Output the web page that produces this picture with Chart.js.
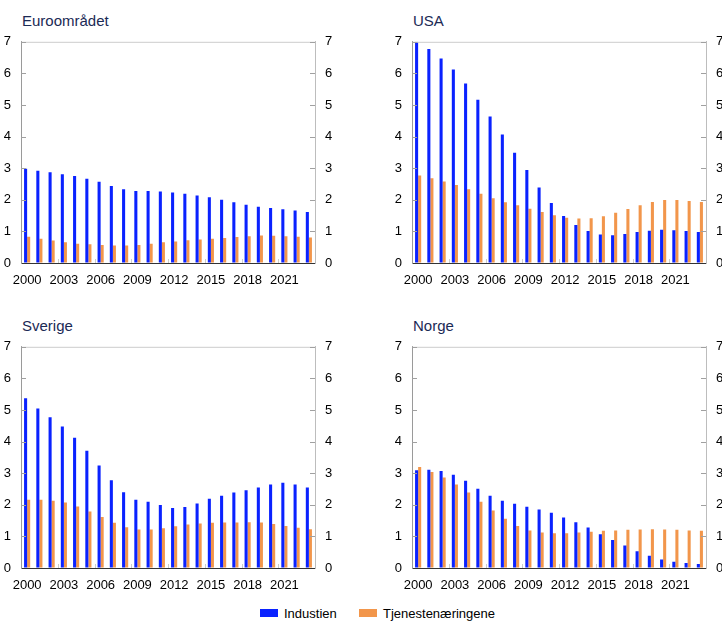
<!DOCTYPE html>
<html>
<head>
<meta charset="utf-8">
<script src="https://cdn.jsdelivr.net/npm/chart.js@4.4.1/dist/chart.umd.min.js"></script>
<style>
  body { margin: 0; width: 722px; height: 644px; overflow: hidden; background: #fff; font-family: "Liberation Sans", Arial, sans-serif; position: relative; }
  .title { position: absolute; font-size: 15px; line-height: 20px; color: #1b2a55; }
  canvas { position: absolute; }
  .legend { position: absolute; top: 605px; left: 0; width: 722px; font-size: 13px; color: #000; }
  .legend span.item { position: absolute; top: 0; line-height: 18px; }
  .legend i { display: inline-block; width: 18px; height: 8px; margin-right: 6px; vertical-align: 1px; }
</style>
</head>
<body>
<div class="title" style="left:22px;top:11px">Euroområdet</div>
<div class="title" style="left:413px;top:11px">USA</div>
<div class="title" style="left:22px;top:316px">Sverige</div>
<div class="title" style="left:413px;top:316px">Norge</div>

<canvas id="c1" width="360" height="276" style="left:0;top:24px"></canvas>
<canvas id="c2" width="360" height="276" style="left:391px;top:24px"></canvas>
<canvas id="c3" width="360" height="276" style="left:0;top:329px"></canvas>
<canvas id="c4" width="360" height="276" style="left:391px;top:329px"></canvas>

<div class="legend">
  <span class="item" style="left:260px"><i style="background:#0a22ff"></i>Industien</span>
  <span class="item" style="left:359px"><i style="background:#f2964b"></i>Tjenestenæringene</span>
</div>

<script>
var years = [];
for (var y = 2000; y <= 2023; y++) years.push(String(y));

// Euroområdet
var euroIndustri = [2.98, 2.92, 2.87, 2.81, 2.75, 2.67, 2.57, 2.44, 2.33, 2.28, 2.28, 2.26, 2.23, 2.19, 2.14, 2.08, 2.00, 1.92, 1.84, 1.78, 1.74, 1.70, 1.66, 1.61];
var euroTjeneste = [0.83, 0.77, 0.71, 0.66, 0.61, 0.59, 0.57, 0.55, 0.55, 0.57, 0.61, 0.66, 0.68, 0.72, 0.74, 0.77, 0.79, 0.82, 0.85, 0.87, 0.86, 0.85, 0.83, 0.81];
// USA
var usaIndustri = [7.00, 6.77, 6.47, 6.12, 5.68, 5.17, 4.64, 4.07, 3.49, 2.94, 2.39, 1.90, 1.49, 1.20, 1.01, 0.90, 0.88, 0.92, 0.98, 1.02, 1.05, 1.04, 1.01, 0.98];
var usaTjeneste = [2.77, 2.68, 2.58, 2.47, 2.33, 2.19, 2.05, 1.92, 1.83, 1.72, 1.61, 1.51, 1.43, 1.41, 1.42, 1.48, 1.59, 1.71, 1.83, 1.93, 1.99, 1.99, 1.96, 1.93];
// Sverige
var sveIndustri = [5.37, 5.05, 4.77, 4.48, 4.12, 3.71, 3.24, 2.78, 2.40, 2.16, 2.10, 1.99, 1.90, 1.93, 2.04, 2.19, 2.29, 2.39, 2.46, 2.55, 2.64, 2.70, 2.64, 2.55];
var sveTjeneste = [2.16, 2.16, 2.13, 2.07, 1.95, 1.79, 1.61, 1.43, 1.29, 1.22, 1.22, 1.26, 1.32, 1.38, 1.41, 1.43, 1.44, 1.44, 1.45, 1.44, 1.39, 1.33, 1.27, 1.23];
// Norge
var norIndustri = [3.09, 3.11, 3.07, 2.95, 2.76, 2.51, 2.29, 2.13, 2.03, 1.94, 1.85, 1.75, 1.60, 1.45, 1.28, 1.07, 0.89, 0.71, 0.53, 0.39, 0.27, 0.20, 0.16, 0.13];
var norTjeneste = [3.20, 3.04, 2.86, 2.64, 2.39, 2.10, 1.82, 1.56, 1.33, 1.19, 1.12, 1.10, 1.10, 1.12, 1.15, 1.18, 1.19, 1.21, 1.22, 1.23, 1.22, 1.21, 1.19, 1.18];

var yTicks = [0, 1, 2, 3, 4, 5, 6, 7];
var blue = '#0a22ff';
var orange = '#f2964b';
var font = { family: '"Liberation Sans", Arial, sans-serif', size: 13 };

// short inward tick marks and top frame line
var frame = {
  id: 'frame',
  afterDraw: function(chart) {
    var ctx = chart.ctx, a = chart.chartArea;
    var ys = chart.scales.y, xs = chart.scales.x;
    ctx.save();
    ctx.lineWidth = 1;
    ctx.strokeStyle = '#cccccc';
    ctx.beginPath();
    ctx.moveTo(a.left, a.top + 0.5);
    ctx.lineTo(a.right, a.top + 0.5);
    ctx.stroke();
    ctx.strokeStyle = '#a0a0a0';
    yTicks.forEach(function(v) {
      if (v === 0) return;
      var py = Math.round(ys.getPixelForValue(v)) + 0.5;
      ctx.beginPath();
      ctx.moveTo(a.left, py); ctx.lineTo(a.left + 5, py);
      ctx.moveTo(a.right - 5, py); ctx.lineTo(a.right, py);
      ctx.stroke();
    });
    ctx.strokeStyle = '#cccccc';
    years.forEach(function(lab, i) {
      if (i % 3 !== 0 || i === 0) return;
      var px = Math.round(xs.getPixelForValue(i) - xs.width / years.length / 2) + 0.5;
      ctx.beginPath();
      ctx.moveTo(px, a.bottom); ctx.lineTo(px, a.bottom - 4);
      ctx.stroke();
    });
    ctx.restore();
  }
};

function makeChart(id, industri, tjeneste) {
  new Chart(document.getElementById(id), {
    type: 'bar',
    data: {
      labels: years,
      datasets: [
        { label: 'Industien', data: industri, backgroundColor: blue, yAxisID: 'y' },
        { label: 'Tjenestenæringene', data: tjeneste, backgroundColor: orange, yAxisID: 'y' }
      ]
    },
    options: {
      responsive: false,
      animation: false,
      devicePixelRatio: 1,
      layout: { padding: { top: 11, left: 0, right: 0, bottom: 0 } },
      datasets: { bar: { categoryPercentage: 0.5, barPercentage: 1.0 } },
      plugins: { legend: { display: false }, tooltip: { enabled: false } },
      scales: {
        x: {
          grid: { display: false, drawTicks: false },
          border: { display: true, color: '#333333', width: 1 },
          ticks: {
            autoSkip: false, maxRotation: 0, padding: 10, color: '#000', font: font,
            callback: function(v, i) { return i % 3 === 0 ? years[i] : ''; }
          },
          afterFit: function(s) { s.height = 37; }
        },
        y: {
          position: 'left', min: 0, max: 7,
          afterBuildTicks: function(s) { s.ticks = yTicks.map(function(v) { return { value: v }; }); },
          grid: { drawOnChartArea: false, drawTicks: false },
          border: { display: true, color: '#9a9a9a' },
          ticks: { padding: 10, color: '#000', font: font },
          afterFit: function(s) { s.width = 21; }
        },
        y2: {
          position: 'right', min: 0, max: 7,
          afterBuildTicks: function(s) { s.ticks = yTicks.map(function(v) { return { value: v }; }); },
          grid: { drawOnChartArea: false, drawTicks: false },
          border: { display: true, color: '#bdbdbd' },
          ticks: { padding: 10, color: '#000', font: font },
          afterFit: function(s) { s.width = 45; }
        }
      }
    },
    plugins: [frame]
  });
}

makeChart('c1', euroIndustri, euroTjeneste);
makeChart('c2', usaIndustri, usaTjeneste);
makeChart('c3', sveIndustri, sveTjeneste);
makeChart('c4', norIndustri, norTjeneste);
</script>
</body>
</html>
